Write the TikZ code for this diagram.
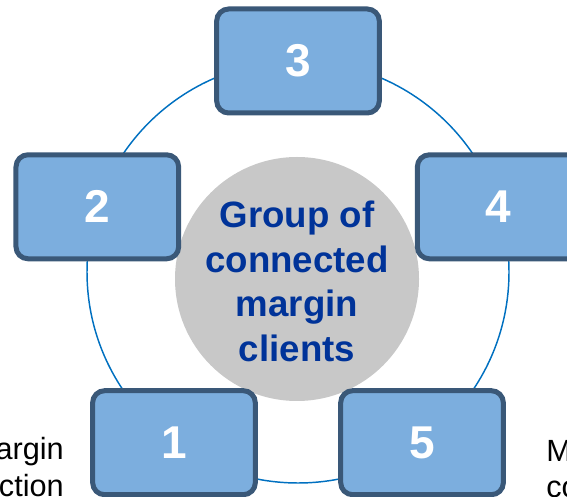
\documentclass[tikz,border=0pt]{standalone}
\usepackage{fontspec}
\setmainfont{Liberation Sans}
\usepackage{tikz}
\usetikzlibrary{positioning}
\definecolor{boxfill}{HTML}{7CAEDE}
\definecolor{boxline}{HTML}{3A5878}
\definecolor{ringblue}{HTML}{0070C0}
\definecolor{hubgray}{HTML}{C8C8C8}
\definecolor{hubtext}{HTML}{003399}
\tikzset{numbox/.style={draw=boxline, fill=boxfill, line width=3.75pt, rounded corners=9pt,
  minimum width=122pt, minimum height=78pt, inner sep=0pt, text=white,
  font=\bfseries\fontsize{34.5}{40}\selectfont}}
\tikzset{hubnode/.style={circle, fill=hubgray, minimum size=183pt, inner sep=0pt}}
\tikzset{hublabel/.style={inner sep=0pt, align=center, text=hubtext,
  font=\bfseries\fontsize{27.5}{33.5}\selectfont}}
\tikzset{sidetext/.style={inner sep=0pt, font=\fontsize{23}{27}\selectfont}}

\begin{document}
\begin{tikzpicture}[x=0.75pt,y=0.75pt]
\useasboundingbox (0,0) rectangle (567,496);
\coordinate (ring) at (298,224);
\draw[ringblue, line width=1.1pt] (ring) circle (211);
\node[hubnode] (hub) at (297,217) {};
\node[hublabel] (hubname) at (297,214.5) {Group of\\connected\\margin\\clients};
\foreach \k in {1,...,5} {
\path (ring) ++({90+72*(3-\k)}:211) node[numbox] (box\k) {\k};
}
%\node[below left] at (box1.south west) {};
\node[sidetext, anchor=base east] (lefta) at (64,37) {argin};
\node[sidetext, anchor=base east] (leftb) at (64,0) {ction};
\node[sidetext, anchor=base west] (righta) at (546,35) {M};
\node[sidetext, anchor=base west] (rightb) at (546,-1) {co};
\end{tikzpicture}
\end{document}
